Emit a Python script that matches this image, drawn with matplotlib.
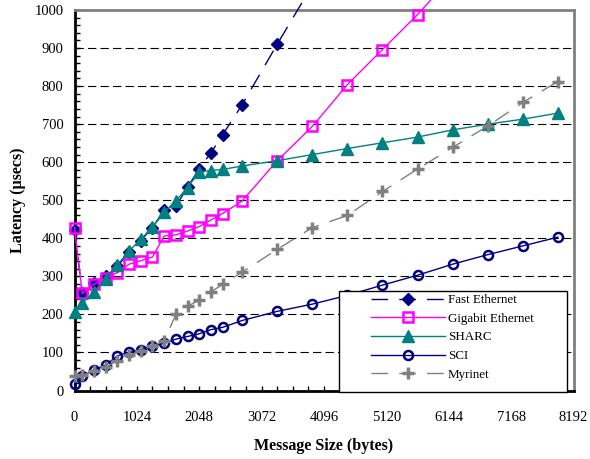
import numpy as np
import matplotlib
matplotlib.use("Agg")
import matplotlib.pyplot as plt
from matplotlib.ticker import MultipleLocator
from matplotlib.patches import Rectangle

plt.rcParams['font.family'] = ['Liberation Serif', 'DejaVu Serif']
plt.rcParams['lines.scale_dashes'] = False

# message sizes (bytes) sampled in the benchmark
msg_size = [0, 128, 320, 512, 704, 896, 1088, 1280, 1472, 1664, 1856, 2048,
            2240, 2432, 2752, 3328, 3904, 4480, 5056, 5632, 6208, 6784, 7360, 7936]

# latency in usecs for each network
fast_ethernet = [422, 255, 283, 301, 326, 364, 394, 428, 474, 485, 534, 583,
                 625, 672, 751, 910, 1065]
gigabit_ethernet = [428, 255, 279, 295, 310, 332, 341, 351, 406, 409, 419, 431,
                    448, 465, 498, 604, 694, 804, 896, 988, 1090]
sharc = [207, 229, 259, 292, 330, 367, 397, 429, 468, 499, 533, 575,
         578, 581, 590, 604, 620, 636, 651, 666, 685, 700, 713, 729]
sci = [16, 38, 54, 67, 91, 101, 107, 117, 124, 135, 142, 149,
       160, 166, 184, 208, 227, 250, 277, 303, 332, 357, 380, 403]
myrinet = [38, 40, 50, 62, 78, 93, 104, 117, 130, 200, 222, 237,
           259, 279, 311, 371, 428, 460, 523, 582, 639, 695, 757, 812]

navy = '#000080'
magenta = '#FF00FF'
teal = '#008080'
grey = '#808080'
long_dash = (0, (12, 8))

fig = plt.figure(figsize=(5.9, 4.59), dpi=100)
ax = fig.add_axes([74.5 / 590, 1 - 390.5 / 459, 499 / 590, 380.5 / 459])

ax.plot(msg_size[:len(fast_ethernet)], fast_ethernet, color=navy, lw=1.0,
        linestyle=long_dash, marker='D', ms=6.5, mfc=navy, mec=navy,
        label='Fast Ethernet', clip_on=False, zorder=3)
ax.plot(msg_size[:len(gigabit_ethernet)], gigabit_ethernet, color=magenta, lw=1.0,
        marker='s', ms=6.5, mfc='none', mec=magenta, mew=1.8,
        label='Gigabit Ethernet', clip_on=False, zorder=3)
ax.plot(msg_size, sharc, color=teal, lw=1.0, marker='^', ms=8,
        mfc=teal, mec=teal, label='SHARC', clip_on=False, zorder=3)
ax.plot(msg_size, sci, color=navy, lw=1.0, marker='o', ms=6.5,
        mfc='none', mec=navy, mew=1.8, label='SCI', clip_on=False, zorder=3)
ax.plot(msg_size, myrinet, color=grey, lw=1.0, linestyle=long_dash,
        marker='+', ms=8, mew=2.5, mec=grey, label='Myrinet',
        clip_on=False, zorder=3)

ax.set_xlim(0, 8192)
ax.set_ylim(0, 1000)
ax.xaxis.set_major_locator(MultipleLocator(1024))
ax.xaxis.set_minor_locator(MultipleLocator(256))
ax.yaxis.set_major_locator(MultipleLocator(100))
ax.yaxis.set_minor_locator(MultipleLocator(20))
ax.tick_params(axis='both', which='both', direction='in', length=3.5,
               width=1.0, color='black', labelsize=10.5)
ax.tick_params(axis='x', which='major', pad=15)
ax.tick_params(axis='y', which='major', pad=8)

ax.yaxis.grid(True, which='major', color='black', lw=0.8, linestyle=(0, (6, 3)))
ax.set_axisbelow(True)

for side in ('top', 'right'):
    ax.spines[side].set_color(grey)
    ax.spines[side].set_linewidth(2.0)
for side in ('left', 'bottom'):
    ax.spines[side].set_color('black')
    ax.spines[side].set_linewidth(2.0)
    ax.spines[side].set_zorder(2.5)

ax.set_xlabel('Message Size (bytes)', fontsize=11.5, fontweight='bold')
ax.set_ylabel('Latency (\u00b5secs)', fontsize=11.5, fontweight='bold')
ax.xaxis.set_label_coords(0.5, -0.125)
ax.yaxis.set_label_coords(-0.097, 0.5)

# legend box sits on the x axis in the lower right corner
box = Rectangle((0.5307, -0.003), 0.4557, 0.2653, transform=ax.transAxes,
                facecolor='white', edgecolor='black', lw=1.0,
                clip_on=False, zorder=4.5)
ax.add_patch(box)
leg = ax.legend(loc='upper left', bbox_to_anchor=(0.5936, 0.2536),
                frameon=False, fontsize=9.4, handlelength=5.67,
                handletextpad=0.25, borderpad=0, borderaxespad=0,
                labelspacing=0.5)
leg.set_zorder(5)

fig.savefig('out.png', dpi=100)
